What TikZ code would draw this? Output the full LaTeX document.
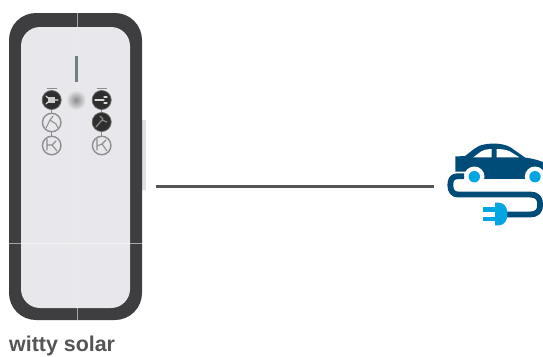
\documentclass[tikz,border=0pt]{standalone}
\usepackage{fontspec}
\setmainfont{Liberation Sans}
\usetikzlibrary{calc}
\definecolor{shell}{HTML}{3E3E40}
\definecolor{face}{HTML}{E8E8EC}
\definecolor{handle}{HTML}{DFDFE4}
\definecolor{navy}{HTML}{004C78}
\definecolor{skyblue}{HTML}{00A5E1}
\definecolor{wire}{HTML}{555555}
\definecolor{ringgray}{HTML}{8E8E90}
\tikzset{
  darkbtn/.style={circle,fill=black!82,draw=black!60,line width=.8pt,minimum size=19pt,inner sep=0pt},
  ringbtn/.style={circle,draw=ringgray,line width=1.4pt,fill=face,minimum size=18.5pt,inner sep=0pt},
  glyphw/.style={white!85!black,line width=1.2pt,line cap=round},
  glyphg/.style={ringgray,line width=1.1pt,line cap=round},
  tinybar/.style={ringgray,line width=1.5pt},
  seamface/.style={white!92!black,line width=.8pt},
  seamshell/.style={gray!70,line width=.4pt},
  link/.style={ringgray,line width=.8pt},
  cable/.style={navy,line width=5.8pt,line cap=round,line join=round},
  connector/.style={wire,line width=3pt},
}
\begin{document}
\begin{tikzpicture}[x=1pt,y=-1pt]
\useasboundingbox (0,0) rectangle (543,356);
\clip (0,0) rectangle (543,356);
\fill[white] (0,0) rectangle (543,356);
% side handle
\fill[handle] (138,120) rectangle (145.5,190);
% charger
\node[draw=none,fill=none,minimum width=137pt,minimum height=307pt,inner sep=0pt,outer sep=0pt] (charger) at (77.5,166.5) {};
\fill[shell,rounded corners=27pt] (9,13) rectangle (142,320);
\fill[face,rounded corners=19pt] (21,27) rectangle (130,308);
\draw[seamface] (77.5,27) -- (77.5,308);
\draw[seamshell] (77.5,13) -- (77.5,27) (77.5,308) -- (77.5,320) (9,243) -- (21,243) (130,243) -- (142,243);
\draw[white!95!black,line width=.5pt] (21,243) -- (130,243);
% slit
\fill[gray!85!teal] (74.5,56) rectangle (77.5,82);
% centre sensor
\shade[inner color=gray!90,outer color=face] (76,100) circle (10pt);
% labels over the columns (too small to read)
\draw[tinybar] (46.5,88.5) -- (57,88.5);
\draw[tinybar] (96.5,88.5) -- (107,88.5);
% buttons
\node[darkbtn] (l1) at (51.7,100) {};
\node[ringbtn] (l2) at (51.7,122.5) {};
\node[ringbtn] (l3) at (51.7,145.5) {};
\node[darkbtn] (r1) at (101.7,100) {};
\node[darkbtn] (r2) at (101.7,122) {};
\node[ringbtn] (r3) at (101.7,145.5) {};
\draw[link] (l1) -- (l2);
\draw[link] (l2) -- (l3);
\draw[link] (r1) -- (r2);
\draw[link] (r2) -- (r3);
% glyphs
\fill[white!80!black] (48,97) rectangle (55,103);
\draw[glyphw] (46,96) -- (48,98) (46,104) -- (48,102) (55,100) -- (58,100);
\draw[glyphw] (95,100) -- (104,100) (104,97) -- (107,97) (104,103) -- (107,103);
\draw[glyphw,black!45] (96,127) -- (102,120) (102,120) -- (107,122) (100,116) -- (103,119);
\draw[glyphg] (46,128) -- (50,120) -- (56,124) -- (58,128) (50,120) -- (53,116);
\draw[glyphg] (47,139) -- (47,150) (47,145) -- (52,145) -- (57,151) (52,145) -- (56,141);
\draw[glyphg] (97,139) -- (97,150) (97,146) -- (102,144) -- (107,151) (102,144) -- (106,140);
% connector
\node[minimum width=97pt,minimum height=96pt,inner sep=0pt,outer sep=0pt] (car) at (494.5,186) {};
\coordinate (wireLevel) at (300,186.5);
\draw[connector,shorten <=10pt,shorten >=12pt] (charger.east |- wireLevel) -- (car.west |- wireLevel);
% car body
\fill[navy] (455.3,171.5) -- (455.3,156.5) -- (465,156) .. controls (472,151) and (476,146) .. (484,144.5)
  .. controls (492,143) and (502,143) .. (510,147) -- (525,157.5) .. controls (532,158.5) and (538,160) .. (543,162)
  -- (543,179.3) -- (468,179.3) -- (468,171.5) -- cycle;
% wheel arches
\fill[white] (474.3,176.7) circle (10.2pt);
\fill[white] (535,176.7) circle (10.2pt);
\fill[white] (460,179.3) rectangle (543,183);
% windows
\fill[white] (473.3,157.3) -- (491.7,157.3) -- (491.7,149) .. controls (486,149.3) and (483,150) .. (481,151.5) -- cycle;
\fill[white] (496.7,149) -- (496.7,157.3) -- (519.3,157.3) -- (510,151.5) .. controls (506,149.5) and (501,149) .. cycle;
% wheels
\fill[skyblue] (474.3,176.7) circle (5.7pt);
\fill[skyblue] (535,176.7) circle (5.7pt);
% cable
\draw[cable,line cap=butt] (464,176.3) -- (457,176.3) .. controls (452.5,176.3) and (450.3,179.5) .. (450.3,185)
  .. controls (450.3,191) and (453,194.5) .. (458,194.5) -- (530,194.5)
  .. controls (537,194.5) and (540.2,198) .. (540.2,204.5) .. controls (540.2,211) and (537,214.5) .. (530,214.5) -- (505,214.5);
% plug
\fill[skyblue] (495,202.7) -- (499,202.7) .. controls (504.5,202.7) and (507.5,208) .. (507.5,214)
  .. controls (507.5,220) and (504.5,225.3) .. (499,225.3) -- (495,225.3) -- cycle;
\fill[skyblue] (483,207.3) rectangle (496,211.7);
\fill[skyblue] (483,216.7) rectangle (496,220.9);
% caption
\node[anchor=base west,inner sep=0pt,text=wire,font=\fontsize{21.4}{22}\selectfont\bfseries] (caption) at (9,351.4) {witty solar};
\end{tikzpicture}
\end{document}
